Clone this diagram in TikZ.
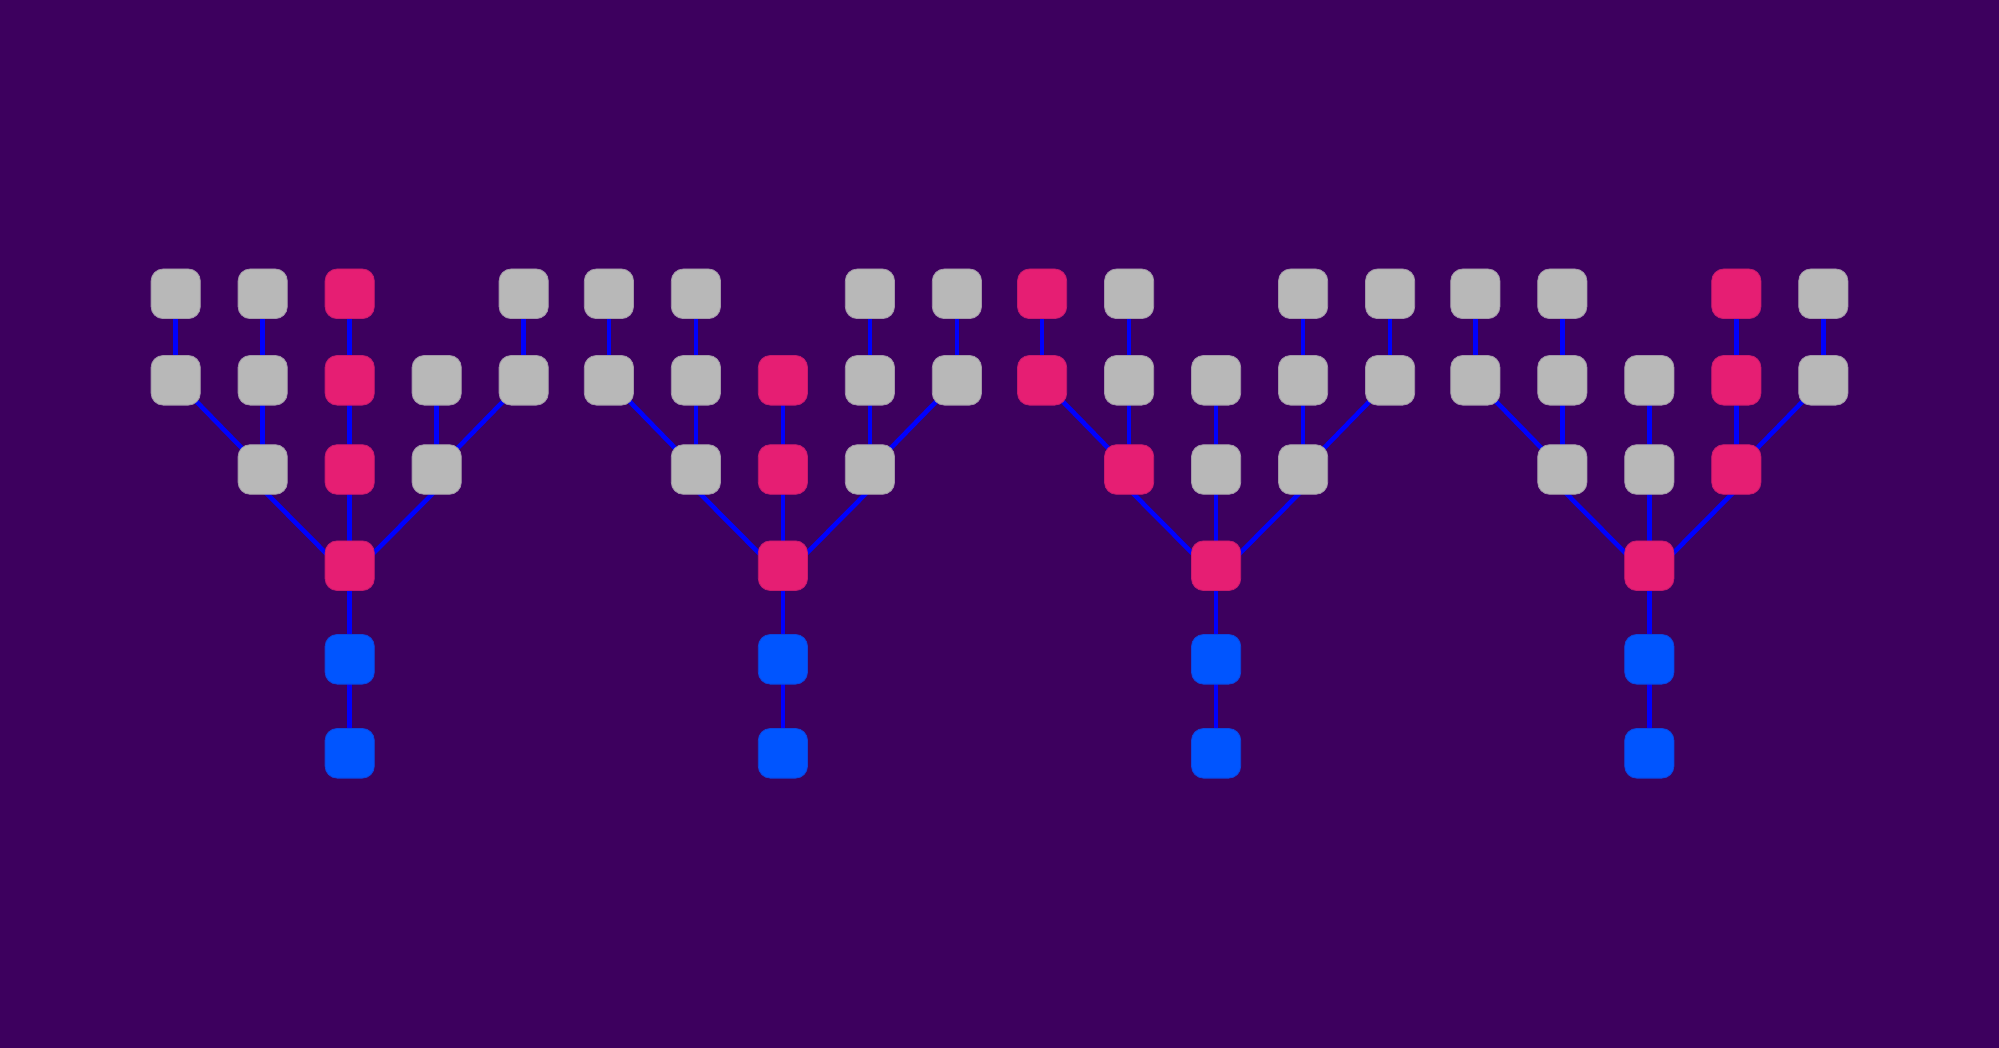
\documentclass[tikz,border=0pt]{standalone}
\usetikzlibrary{calc}
\definecolor{bgc}{HTML}{3D005E}
\definecolor{boxgray}{HTML}{B8B8B8}
\definecolor{boxpink}{HTML}{E61E73}
\definecolor{boxblue}{HTML}{0055FF}
\definecolor{edgec}{HTML}{0000FF}
\pgfdeclarelayer{bglayer}
\pgfdeclarelayer{edgelayer}
\pgfsetlayers{bglayer,edgelayer,main}
\tikzset{
  box/.style={rounded corners=12pt, minimum width=49.2pt, minimum height=49.6pt, inner sep=0pt, line width=0.8pt},
  gbox/.style={box, fill=boxgray, draw=boxgray!82!bgc},
  pbox/.style={box, fill=boxpink, draw=boxpink!82!bgc},
  bbox/.style={box, fill=boxblue, draw=boxblue!82!bgc},
  edge/.style={draw=edgec, line width=4.6pt}
}
\begin{document}
\begin{tikzpicture}[x=1pt,y=-1pt]
\useasboundingbox (0,0) rectangle (1999,1048);
\begin{pgfonlayer}{bglayer}
\fill[bgc] (0,0) rectangle (1999,1048);
\end{pgfonlayer}

% ---------------- Tree A ----------------
\begin{scope}[xshift=349.7pt]
\node[gbox] (A11) at (-174,293.8) {};
\node[gbox] (A12) at (-87,293.8) {};
\node[pbox] (A13) at (0,293.8) {};
\node[gbox] (A15) at (174,293.8) {};
\node[gbox] (A21) at (-174,380.3) {};
\node[gbox] (A22) at (-87,380.3) {};
\node[pbox] (A23) at (0,380.3) {};
\node[gbox] (A24) at (87,380.3) {};
\node[gbox] (A25) at (174,380.3) {};
\node[gbox] (A32) at (-87,469.5) {};
\node[pbox] (A33) at (0,469.5) {};
\node[gbox] (A34) at (87,469.5) {};
\node[pbox] (A4) at (0,565.7) {};
\node[bbox] (A5) at (0,659.3) {};
\node[bbox] (A6) at (0,753.3) {};
\end{scope}

% ---------------- Tree B ----------------
\begin{scope}[xshift=782.9pt]
\node[gbox] (B11) at (-174,293.8) {};
\node[gbox] (B12) at (-87,293.8) {};
\node[gbox] (B14) at (87,293.8) {};
\node[gbox] (B15) at (174,293.8) {};
\node[gbox] (B21) at (-174,380.3) {};
\node[gbox] (B22) at (-87,380.3) {};
\node[pbox] (B23) at (0,380.3) {};
\node[gbox] (B24) at (87,380.3) {};
\node[gbox] (B25) at (174,380.3) {};
\node[gbox] (B32) at (-87,469.5) {};
\node[pbox] (B33) at (0,469.5) {};
\node[gbox] (B34) at (87,469.5) {};
\node[pbox] (B4) at (0,565.7) {};
\node[bbox] (B5) at (0,659.3) {};
\node[bbox] (B6) at (0,753.3) {};
\end{scope}

% ---------------- Tree C ----------------
\begin{scope}[xshift=1216.1pt]
\node[pbox] (C11) at (-174,293.8) {};
\node[gbox] (C12) at (-87,293.8) {};
\node[gbox] (C14) at (87,293.8) {};
\node[gbox] (C15) at (174,293.8) {};
\node[pbox] (C21) at (-174,380.3) {};
\node[gbox] (C22) at (-87,380.3) {};
\node[gbox] (C23) at (0,380.3) {};
\node[gbox] (C24) at (87,380.3) {};
\node[gbox] (C25) at (174,380.3) {};
\node[pbox] (C32) at (-87,469.5) {};
\node[gbox] (C33) at (0,469.5) {};
\node[gbox] (C34) at (87,469.5) {};
\node[pbox] (C4) at (0,565.7) {};
\node[bbox] (C5) at (0,659.3) {};
\node[bbox] (C6) at (0,753.3) {};
\end{scope}

% ---------------- Tree D ----------------
\begin{scope}[xshift=1649.3pt]
\node[gbox] (D11) at (-174,293.8) {};
\node[gbox] (D12) at (-87,293.8) {};
\node[pbox] (D14) at (87,293.8) {};
\node[gbox] (D15) at (174,293.8) {};
\node[gbox] (D21) at (-174,380.3) {};
\node[gbox] (D22) at (-87,380.3) {};
\node[gbox] (D23) at (0,380.3) {};
\node[pbox] (D24) at (87,380.3) {};
\node[gbox] (D25) at (174,380.3) {};
\node[gbox] (D32) at (-87,469.5) {};
\node[gbox] (D33) at (0,469.5) {};
\node[pbox] (D34) at (87,469.5) {};
\node[pbox] (D4) at (0,565.7) {};
\node[bbox] (D5) at (0,659.3) {};
\node[bbox] (D6) at (0,753.3) {};
\end{scope}

\begin{pgfonlayer}{edgelayer}
% Tree A edges
\draw[edge] (A11.center) -- (A21.center);
\draw[edge] (A12.center) -- (A22.center);
\draw[edge] (A13.center) -- (A23.center);
\draw[edge] (A15.center) -- (A25.center);
\draw[edge] (A21.center) -- (A32.center);
\draw[edge] (A22.center) -- (A32.center);
\draw[edge] (A23.center) -- (A33.center);
\draw[edge] (A24.center) -- (A34.center);
\draw[edge] (A25.center) -- (A34.center);
\draw[edge] ($(A32.center)+(0,20)$) -- ($(A4.center)+(0,11.5)$);
\draw[edge] (A33.center) -- (A4.center);
\draw[edge] ($(A34.center)+(0,20)$) -- ($(A4.center)+(0,11.5)$);
\draw[edge] (A4.center) -- (A5.center);
\draw[edge] (A5.center) -- (A6.center);
% Tree B edges
\draw[edge] (B11.center) -- (B21.center);
\draw[edge] (B12.center) -- (B22.center);
\draw[edge] (B14.center) -- (B24.center);
\draw[edge] (B15.center) -- (B25.center);
\draw[edge] (B21.center) -- (B32.center);
\draw[edge] (B22.center) -- (B32.center);
\draw[edge] (B23.center) -- (B33.center);
\draw[edge] (B24.center) -- (B34.center);
\draw[edge] (B25.center) -- (B34.center);
\draw[edge] ($(B32.center)+(0,20)$) -- ($(B4.center)+(0,11.5)$);
\draw[edge] (B33.center) -- (B4.center);
\draw[edge] ($(B34.center)+(0,20)$) -- ($(B4.center)+(0,11.5)$);
\draw[edge] (B4.center) -- (B5.center);
\draw[edge] (B5.center) -- (B6.center);
% Tree C edges
\draw[edge] (C11.center) -- (C21.center);
\draw[edge] (C12.center) -- (C22.center);
\draw[edge] (C14.center) -- (C24.center);
\draw[edge] (C15.center) -- (C25.center);
\draw[edge] (C21.center) -- (C32.center);
\draw[edge] (C22.center) -- (C32.center);
\draw[edge] (C23.center) -- (C33.center);
\draw[edge] (C24.center) -- (C34.center);
\draw[edge] (C25.center) -- (C34.center);
\draw[edge] ($(C32.center)+(0,20)$) -- ($(C4.center)+(0,11.5)$);
\draw[edge] (C33.center) -- (C4.center);
\draw[edge] ($(C34.center)+(0,20)$) -- ($(C4.center)+(0,11.5)$);
\draw[edge] (C4.center) -- (C5.center);
\draw[edge] (C5.center) -- (C6.center);
% Tree D edges
\draw[edge] (D11.center) -- (D21.center);
\draw[edge] (D12.center) -- (D22.center);
\draw[edge] (D14.center) -- (D24.center);
\draw[edge] (D15.center) -- (D25.center);
\draw[edge] (D21.center) -- (D32.center);
\draw[edge] (D22.center) -- (D32.center);
\draw[edge] (D23.center) -- (D33.center);
\draw[edge] (D24.center) -- (D34.center);
\draw[edge] (D25.center) -- (D34.center);
\draw[edge] ($(D32.center)+(0,20)$) -- ($(D4.center)+(0,11.5)$);
\draw[edge] (D33.center) -- (D4.center);
\draw[edge] ($(D34.center)+(0,20)$) -- ($(D4.center)+(0,11.5)$);
\draw[edge] (D4.center) -- (D5.center);
\draw[edge] (D5.center) -- (D6.center);
\end{pgfonlayer}
\end{tikzpicture}
\end{document}
